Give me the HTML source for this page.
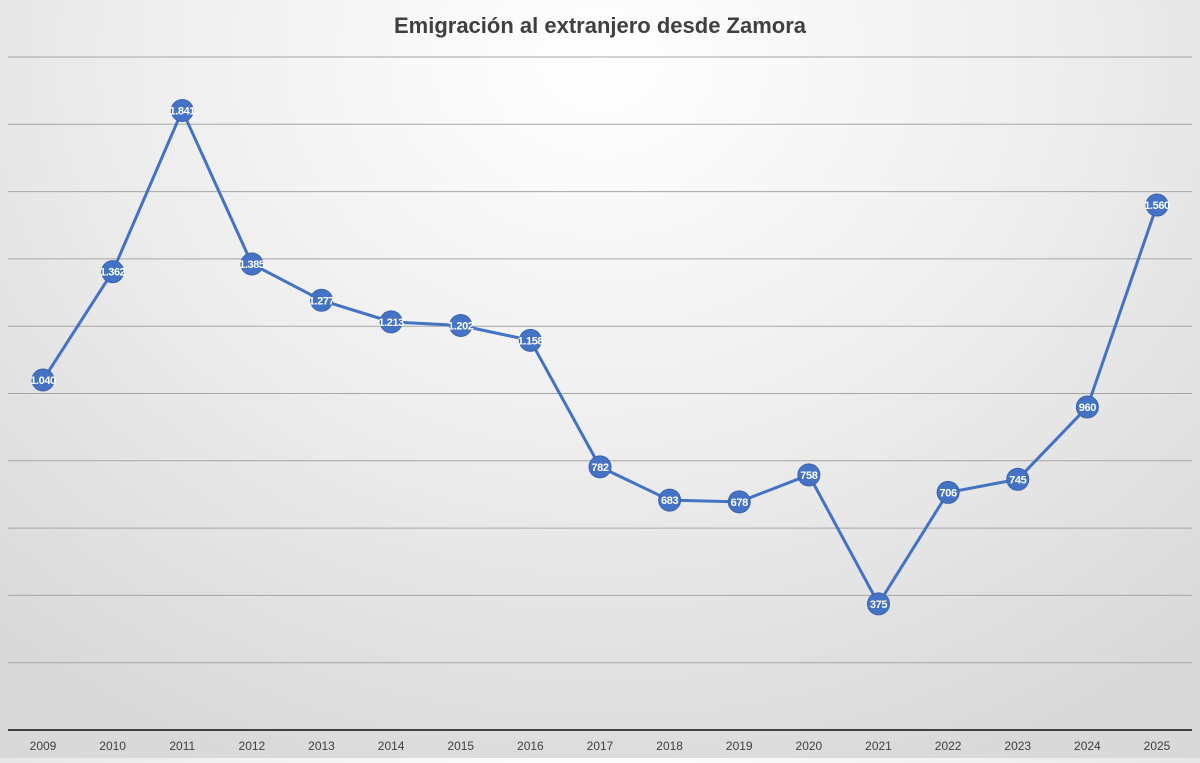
<!DOCTYPE html>
<html><head><meta charset="utf-8"><style>
html,body{margin:0;padding:0;}
body{width:1200px;height:758px;overflow:hidden;background:radial-gradient(ellipse 900px 760px at 600px 60px,#ffffff 0%,#f0f0f0 45%,#d9d9d9 100%);font-family:"Liberation Sans",sans-serif;}
</style></head><body>
<svg id="chart" width="1200" height="758" xmlns="http://www.w3.org/2000/svg">
<text x="600" y="33" text-anchor="middle" font-family="Liberation Sans, sans-serif" font-weight="bold" font-size="22" fill="#404040">Emigración al extranjero desde Zamora</text>
<g id="grid"></g><g id="xlabels"></g><g id="series"></g>
</svg>
<script>
const years=["2009","2010","2011","2012","2013","2014","2015","2016","2017","2018","2019","2020","2021","2022","2023","2024","2025"];
const values=[1040,1362,1841,1385,1277,1213,1202,1158,782,683,678,758,375,706,745,960,1560];
const labels=["1.040","1.362","1.841","1.385","1.277","1.213","1.202","1.158","782","683","678","758","375","706","745","960","1.560"];
const yTicks=[200,400,600,800,1000,1200,1400,1600,1800,2000];
const NS="http://www.w3.org/2000/svg";
function y(v){return 730-v*(673/2000);}
function x(i){return 43+i*(1114/16);}
function mk(t,a,p){const e=document.createElementNS(NS,t);for(const k in a)e.setAttribute(k,a[k]);p.appendChild(e);return e;}
const grid=document.getElementById('grid'),xl=document.getElementById('xlabels'),s=document.getElementById('series');
yTicks.forEach(v=>{const l=mk('line',{x1:8,x2:1192,y1:y(v),y2:y(v),stroke:'#a6a6a6','stroke-width':1},grid);

});
const base=mk('line',{x1:8,x2:1192,y1:730,y2:730,stroke:'#404040','stroke-width':2},grid);


years.forEach((yr,i)=>{const t=mk('text',{x:x(i),y:750,'text-anchor':'middle','font-size':12,fill:'#404040'},xl);t.textContent=yr;

});
const pts=values.map((v,i)=>x(i)+','+y(v)).join(' ');
const pl=mk('polyline',{points:pts,fill:'none',stroke:'#4472c4','stroke-width':3,'stroke-linejoin':'round'},s);


values.forEach((v,i)=>{const c=mk('circle',{cx:x(i),cy:y(v),r:11,fill:'#4472c4',stroke:'#3a64b0','stroke-width':1},s);


const t=mk('text',{x:x(i),y:y(v)+4,'text-anchor':'middle','font-size':11,'letter-spacing':'-0.4','font-weight':'bold',fill:'#ffffff'},s);t.textContent=labels[i];

});
</script>
</body></html>
